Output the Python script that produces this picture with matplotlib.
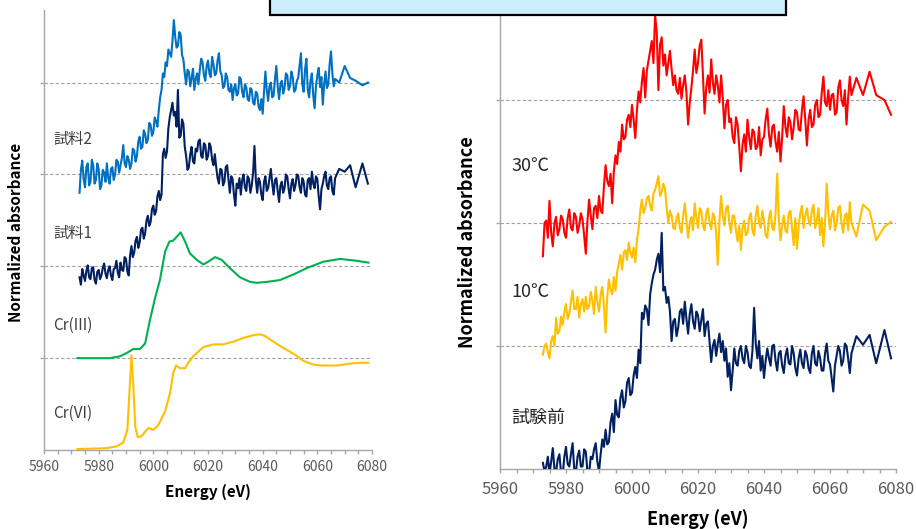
import numpy as np
import matplotlib
matplotlib.use("Agg")
import matplotlib.pyplot as plt
from matplotlib.patches import Rectangle
from matplotlib.ticker import MultipleLocator

plt.rcParams['font.family'] = ['Noto Sans CJK JP', 'DejaVu Sans']

# energy grid shared by the noisy spectra: 0.5 eV steps, then a sparse tail
energy = list(np.arange(5973, 6067, 0.5)) + [6068, 6070, 6072, 6074, 6076.5, 6078.5]

# ---- left panel ----
sample2 = [2.80, 3.05, 3.15, 2.95, 2.86, 3.08, 3.12, 2.88, 2.92, 3.16, 3.10, 2.90, 2.94, 3.12, 3.06, 2.84, 2.88, 3.05, 3.02, 2.92,
           3.12, 2.96, 2.90, 3.06, 3.08, 2.94, 3.00, 3.16, 3.14, 3.02, 3.10, 3.18, 3.32, 3.12, 3.08, 3.20, 3.16, 3.06, 3.12, 3.28,
           3.26, 3.14, 3.20, 3.36, 3.41, 3.28, 3.30, 3.48, 3.44, 3.34, 3.38, 3.56, 3.54, 3.42, 3.46, 3.62, 3.58, 3.52, 3.70, 3.84,
           3.92, 4.10, 4.06, 4.22, 4.18, 4.36, 4.32, 4.28, 4.45, 4.68, 4.50, 4.38, 4.40, 4.55, 4.52, 4.30, 4.25, 4.10, 3.98, 4.14,
           4.12, 3.96, 4.05, 4.15, 3.92, 4.04, 4.10, 3.98, 4.14, 4.26, 4.22, 4.08, 4.02, 4.18, 4.24, 4.10, 4.06, 4.28, 4.20, 4.08,
           4.10, 4.24, 4.32, 4.12, 4.08, 3.94, 3.96, 4.10, 4.06, 3.92, 3.90, 3.98, 3.81, 3.94, 3.98, 3.86, 3.88, 4.06, 4.04, 3.90,
           3.84, 3.98, 3.95, 3.82, 3.80, 3.94, 3.92, 3.78, 3.76, 3.90, 3.88, 3.74, 3.70, 3.82, 3.66, 3.90, 4.12, 3.92, 3.80, 3.96,
           4.00, 3.84, 3.86, 4.04, 4.18, 3.96, 3.82, 3.98, 4.02, 3.88, 3.94, 4.10, 4.08, 3.92, 3.96, 4.12, 4.06, 3.90, 3.92, 4.02,
           4.05, 4.18, 4.32, 3.98, 3.90, 4.14, 4.26, 3.92, 3.84, 4.02, 4.10, 3.86, 3.72, 3.96, 4.08, 4.16, 3.95, 4.06, 3.76, 3.98,
           4.12, 3.94, 3.98, 4.20, 4.34, 4.10, 3.96, 4.04,
           4.00, 4.18, 4.05, 4.02, 3.97, 4.00]

sample1 = [1.88, 1.80, 1.97, 1.90, 1.84, 1.95, 2.01, 1.88, 1.86, 1.98, 1.99, 1.85, 1.81, 1.94, 1.96, 1.86, 1.90, 1.98, 2.03, 1.92,
           1.87, 1.96, 2.00, 1.90, 1.85, 1.97, 1.98, 2.06, 1.93, 1.88, 2.04, 1.96, 1.95, 2.10, 2.08, 1.94, 1.90, 2.12, 2.22, 2.10,
           2.15, 2.28, 2.32, 2.20, 2.26, 2.40, 2.42, 2.30, 2.36, 2.50, 2.55, 2.44, 2.48, 2.62, 2.66, 2.56, 2.60, 2.76, 2.82, 2.72,
           2.78, 3.22, 3.28, 3.18, 3.25, 3.50, 3.62, 3.70, 3.78, 3.64, 3.68, 3.52, 3.92, 3.40, 3.42, 3.60, 3.55, 3.30, 3.20, 3.05,
           3.08, 3.22, 3.30, 3.14, 3.12, 3.28, 3.25, 3.36, 3.38, 3.20, 3.18, 3.34, 3.32, 3.16, 3.20, 3.34, 3.30, 3.16, 3.10, 3.22,
           3.08, 2.96, 2.90, 3.06, 3.05, 2.88, 2.92, 3.08, 3.10, 2.94, 2.80, 2.98, 2.95, 2.78, 2.66, 2.90, 2.85, 2.96, 2.78, 2.94,
           3.00, 2.86, 2.82, 2.98, 2.95, 2.80, 2.88, 3.02, 3.31, 2.94, 2.80, 2.96, 2.92, 2.78, 2.72, 2.92, 2.98, 2.82, 2.85, 2.96,
           3.06, 2.90, 2.78, 2.94, 2.96, 2.82, 2.70, 2.88, 2.92, 2.80, 2.85, 3.00, 2.98, 2.84, 2.74, 2.90, 2.95, 2.82, 2.88, 3.00,
           2.99, 2.86, 2.80, 2.96, 2.92, 2.78, 2.76, 2.94, 2.96, 2.84, 3.03, 2.90, 2.85, 2.98, 2.95, 2.76, 2.62, 2.84, 2.90, 2.98,
           3.03, 2.88, 2.84, 2.96, 2.98, 2.82, 2.78, 2.96,
           3.06, 3.03, 3.10, 2.86, 3.12, 2.90]

cr3_energy = [5972.2, 5984.1, 5987.8, 5990.5, 5992.7, 5995.1, 5997.0, 5998.8, 6000.6,
              6002.4, 6004.3, 6005.9, 6007.3, 6008.5, 6010.0, 6011.6, 6013.4, 6015.9,
              6018.3, 6020.1, 6022.6, 6025.0, 6028.0, 6031.7, 6035.4, 6037.8, 6041.5,
              6046.3, 6051.2, 6056.1, 6062.2, 6068.3, 6074.4, 6078.7]
cr3 = [1.00, 1.00, 1.02, 1.06, 1.10, 1.10, 1.16, 1.42, 1.65,
       1.85, 2.16, 2.27, 2.28, 2.32, 2.37, 2.27, 2.14, 2.07,
       2.02, 2.05, 2.10, 2.07, 1.98, 1.88, 1.83, 1.82, 1.83,
       1.85, 1.91, 1.98, 2.05, 2.08, 2.06, 2.04]

cr6_energy = [5972.2, 5982.9, 5986.6, 5989.0, 5990.5, 5991.5, 5992.0, 5992.7, 5993.4,
              5994.3, 5995.7, 5997.0, 5998.2, 6000.0, 6001.8, 6004.3, 6006.1, 6007.3,
              6008.3, 6009.8, 6011.6, 6012.8, 6014.6, 6018.3, 6022.0, 6025.6, 6029.3,
              6032.9, 6036.6, 6039.0, 6040.9, 6043.9, 6047.6, 6051.2, 6054.9, 6058.5,
              6061.6, 6067.1, 6071.9, 6075.6, 6078.7]
cr6 = [0.01, 0.02, 0.04, 0.08, 0.22, 0.76, 1.03, 0.69, 0.25,
       0.14, 0.15, 0.20, 0.24, 0.22, 0.27, 0.42, 0.62, 0.84,
       0.92, 0.89, 0.89, 0.95, 1.02, 1.12, 1.15, 1.15, 1.18,
       1.22, 1.25, 1.26, 1.24, 1.18, 1.11, 1.05, 0.97, 0.93,
       0.92, 0.92, 0.94, 0.95, 0.95]

# ---- right panel ----
t30 = [1.73, 2.00, 2.02, 1.88, 2.18, 1.92, 1.81, 2.00, 2.05, 1.90, 1.95, 2.06, 2.03, 1.92, 1.88, 2.04, 2.11, 1.96, 1.94, 2.08,
       2.05, 1.92, 1.98, 2.08, 2.03, 1.90, 1.75, 2.02, 2.19, 2.06, 1.95, 2.12, 2.14, 2.04, 2.22, 2.10, 2.08, 2.30, 2.47, 2.34,
       2.30, 2.40, 2.16, 2.42, 2.55, 2.48, 2.66, 2.58, 2.80, 2.68, 2.70, 2.84, 2.88, 2.78, 2.96, 2.84, 2.69, 2.92, 3.07, 2.98,
       3.15, 3.26, 3.02, 3.24, 3.32, 3.40, 3.48, 3.30, 3.69, 3.55, 3.08, 3.45, 3.51, 3.28, 3.37, 3.20, 3.30, 3.40, 3.25, 3.12,
       3.20, 3.08, 3.05, 3.18, 3.01, 3.12, 3.20, 3.06, 2.80, 2.98, 3.10, 3.24, 3.41, 3.22, 3.30, 3.44, 3.49, 3.20, 2.89, 3.10,
       3.20, 3.06, 3.33, 3.14, 3.05, 3.20, 3.12, 2.98, 3.20, 3.02, 2.77, 2.96, 3.00, 2.82, 2.85, 2.70, 2.65, 2.86, 2.80, 2.62,
       2.42, 2.64, 2.72, 2.58, 2.84, 2.70, 2.60, 2.76, 2.74, 2.60, 2.62, 2.78, 2.55, 2.68, 2.70, 2.84, 2.93, 2.72, 2.62, 2.78,
       2.80, 2.66, 2.58, 2.74, 2.50, 2.70, 2.95, 2.78, 2.70, 2.86, 2.82, 2.68, 2.78, 2.92, 2.90, 2.76, 2.75, 2.92, 3.03, 2.84,
       2.63, 2.84, 2.92, 2.78, 2.80, 2.96, 3.00, 2.86, 2.88, 3.06, 3.19, 2.98, 2.95, 3.08, 2.92, 3.04, 3.05, 2.88, 2.90, 3.10,
       3.16, 3.00, 2.95, 3.08, 2.80, 3.02, 3.19, 3.04,
       3.18, 3.04, 3.23, 3.04, 3.00, 2.88]

t10 = [0.93, 1.00, 1.02, 0.95, 0.90, 1.04, 1.08, 1.00, 1.23, 1.10, 1.12, 1.24, 1.17, 1.28, 1.34, 1.22, 1.26, 1.36, 1.45, 1.30,
       1.30, 1.40, 1.23, 1.34, 1.38, 1.28, 1.40, 1.30, 1.32, 1.44, 1.37, 1.26, 1.48, 1.36, 1.28, 1.42, 1.48, 1.32, 1.11, 1.40,
       1.54, 1.46, 1.42, 1.56, 1.45, 1.60, 1.67, 1.74, 1.62, 1.76, 1.78, 1.70, 1.84, 1.76, 1.72, 1.80, 1.68, 1.86, 1.95, 2.10,
       2.19, 2.08, 2.12, 2.20, 2.22, 2.14, 2.10, 2.24, 2.27, 2.32, 2.38, 2.22, 2.25, 2.32, 2.28, 2.12, 2.00, 2.10, 2.06, 1.96,
       1.95, 2.04, 2.08, 1.96, 1.92, 2.06, 2.16, 2.02, 1.88, 2.00, 2.05, 1.94, 2.16, 2.04, 1.96, 2.12, 2.10, 1.98, 1.94, 2.08,
       2.12, 2.00, 1.95, 2.08, 2.05, 1.92, 1.66, 2.02, 2.22, 2.06, 1.98, 2.12, 2.14, 2.00, 1.92, 2.06, 2.06, 1.94, 1.85, 1.98,
       1.78, 1.96, 2.02, 1.90, 1.92, 2.04, 2.08, 1.94, 1.90, 2.06, 2.14, 2.00, 1.96, 2.10, 2.02, 1.90, 1.88, 2.04, 2.10, 1.96,
       1.94, 2.08, 2.40, 2.02, 1.86, 1.98, 2.06, 1.94, 1.92, 2.08, 2.10, 1.96, 1.82, 2.04, 1.79, 1.98, 2.08, 2.14, 1.96, 2.06,
       2.12, 2.02, 1.98, 2.10, 2.15, 1.96, 2.02, 2.12, 1.90, 2.04, 1.81, 2.00, 2.32, 2.08, 1.95, 2.06, 2.10, 1.94, 2.00, 2.12,
       2.14, 2.00, 1.92, 2.06, 2.08, 1.94, 2.17, 2.00,
       1.89, 2.15, 2.10, 1.86, 1.97, 2.01]

before = [0.05, -0.02, 0.02, 0.10, -0.04, 0.06, 0.17, 0.00, -0.02, 0.08, 0.12, -0.03, -0.05, 0.10, 0.18, 0.04, 0.02, 0.12, 0.21, 0.00,
          -0.03, 0.10, 0.15, 0.02, 0.02, 0.16, 0.14, -0.02, -0.04, 0.10, 0.08, 0.16, 0.21, 0.06, -0.02, 0.12, 0.24, 0.18, 0.32, 0.20,
          0.22, 0.38, 0.45, 0.30, 0.56, 0.44, 0.42, 0.58, 0.64, 0.50, 0.55, 0.70, 0.74, 0.60, 0.62, 0.76, 0.83, 0.74, 0.97, 0.86,
          1.27, 1.22, 1.33, 1.30, 1.17, 1.42, 1.51, 1.58, 1.62, 1.70, 1.75, 1.60, 1.92, 1.45, 1.48, 1.35, 1.40, 1.28, 1.04, 1.20,
          1.22, 1.08, 1.15, 1.28, 1.30, 1.18, 1.36, 1.22, 1.10, 1.26, 1.34, 1.20, 1.14, 1.28, 1.25, 1.12, 1.21, 1.30, 1.08, 1.18,
          1.20, 1.04, 0.87, 1.00, 1.05, 0.92, 1.02, 1.10, 0.95, 1.04, 0.88, 0.98, 0.75, 0.86, 0.64, 0.80, 0.98, 0.86, 0.84, 0.96,
          1.00, 0.90, 0.86, 1.00, 0.95, 0.84, 0.82, 0.96, 1.31, 1.02, 0.90, 1.04, 0.80, 0.92, 0.74, 0.88, 0.98, 0.90, 0.84, 1.00,
          1.01, 0.88, 0.80, 0.94, 0.96, 0.84, 0.78, 0.92, 0.98, 0.86, 0.85, 1.00, 0.94, 0.82, 0.76, 0.90, 0.97, 0.86, 0.82, 0.96,
          0.92, 0.82, 0.78, 0.94, 1.00, 0.86, 0.84, 0.96, 0.90, 0.80, 0.80, 0.94, 1.02, 0.88, 0.85, 0.74, 0.63, 0.84, 0.92, 1.00,
          0.96, 0.84, 0.88, 1.02, 1.00, 0.90, 0.78, 0.94,
          1.08, 1.01, 1.09, 0.86, 1.13, 0.90]

left_labels = ["試料2", "試料1", "Cr(III)", "Cr(VI)"]
right_labels = ["30℃", "10℃", "試験前"]

for s in (sample2, sample1, t30, t10, before):
    assert len(s) == len(energy)

W, H = 916, 529
fig = plt.figure(figsize=(W / 100, H / 100), dpi=100)

def px(x, y):
    return x / W, 1 - y / H

def style_axes(ax, ymax, grid_levels, fs):
    ax.set_xlim(5960, 6080)
    ax.set_ylim(0, ymax)
    for s in ['top', 'right']:
        ax.spines[s].set_visible(False)
    for s in ['left', 'bottom']:
        ax.spines[s].set_color('#a6a6a6')
        ax.spines[s].set_linewidth(1.0)
    ax.xaxis.set_major_locator(MultipleLocator(20))
    ax.xaxis.set_minor_locator(MultipleLocator(5))
    ax.set_yticks(grid_levels)
    ax.set_yticklabels([])
    ax.tick_params(axis='both', which='both', direction='out', length=3,
                   color='#a6a6a6', width=1.0)
    ax.tick_params(axis='x', labelsize=fs, labelcolor='#595959', pad=4)
    for lv in grid_levels:
        ax.axhline(lv, color='#a0a0a0', lw=0.8, ls=(0, (3, 2)), zorder=1)

# left panel
axl = fig.add_axes([44 / W, 1 - 450 / H, 328 / W, 440 / H])
style_axes(axl, 4.79, [1, 2, 3, 4], 10)
axl.plot(energy, sample2, color='#0070c0', lw=1.5, zorder=3)
axl.plot(energy, sample1, color='#002060', lw=1.5, zorder=3)
axl.plot(cr3_energy, cr3, color='#00b050', lw=1.5, zorder=3)
axl.plot(cr6_energy, cr6, color='#ffc000', lw=1.5, zorder=3)
axl.set_xlabel('Energy (eV)', fontsize=11, fontweight='bold')
axl.set_ylabel('Normalized absorbance', fontsize=11, fontweight='bold')
axl.xaxis.set_label_coords(0.5, -0.095)
axl.xaxis.label.set_va('center')
axl.yaxis.set_label_coords(-0.085, 0.495)
axl.yaxis.label.set_va('center')

# right panel
axr = fig.add_axes([500 / W, 1 - 469 / H, 396 / W, 469 / H])
style_axes(axr, 3.813, [1, 2, 3], 12)
axr.tick_params(axis='x', pad=6)
axr.plot(energy, t30, color='#ff0000', lw=1.5, zorder=3)
axr.plot(energy, t10, color='#ffc000', lw=1.5, zorder=3)
axr.plot(energy, before, color='#002060', lw=1.5, zorder=3)
axr.set_xlabel('Energy (eV)', fontsize=13, fontweight='bold')
axr.set_ylabel('Normalized absorbance', fontsize=13, fontweight='bold')
axr.xaxis.set_label_coords(0.5, -0.107)
axr.xaxis.label.set_va('center')
axr.yaxis.set_label_coords(-0.083, 0.484)
axr.yaxis.label.set_va('center')

# curve labels
for lab, y in zip(left_labels, [139, 233, 325, 413]):
    fig.text(*px(53, y), lab, fontsize=11, color='#404040', va='center', ha='left')
for lab, y in zip(right_labels, [166, 292, 418]):
    fig.text(*px(511, y), lab, fontsize=13, color='#262626', va='center', ha='left')

# title box (cut off at the top of the picture)
box = Rectangle(px(270, 15), (786 - 270) / W, 0.06, transform=fig.transFigure,
                facecolor='#cdeeff', edgecolor='black', lw=1.6, zorder=10,
                clip_on=False)
fig.patches.append(box)

fig.savefig('out.png', dpi=100)
